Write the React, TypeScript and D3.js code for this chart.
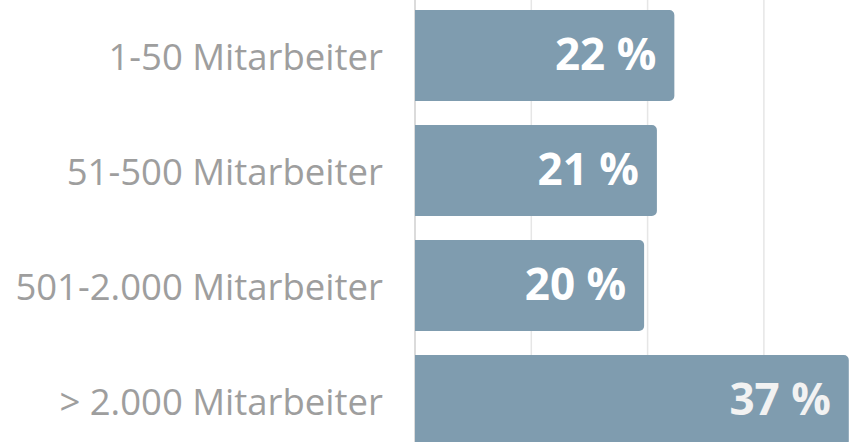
import React from "react";
import * as d3 from "d3";

const categories = ["1-50 Mitarbeiter", "51-500 Mitarbeiter", "501-2.000 Mitarbeiter", "> 2.000 Mitarbeiter"];
const values = [22.3, 20.8, 19.7, 37.3];
const valueLabels = ["22 %", "21 %", "20 %", "37 %"];
const gridTicks = [0, 10, 20, 30, 40];

const W = 867;
const H = 442;

function barPath(x0: number, x1: number, y0: number, h: number, r: number) {
  const p = d3.path();
  p.moveTo(x0, y0);
  p.lineTo(x1 - r, y0);
  p.arcTo(x1, y0, x1, y0 + r, r);
  p.lineTo(x1, y0 + h - r);
  p.arcTo(x1, y0 + h, x1 - r, y0 + h, r);
  p.lineTo(x0, y0 + h);
  p.closePath();
  return p.toString();
}

export default function App() {
  const x = d3.scaleLinear().domain([0, 40]).range([415, 880.2]);
  const y = d3
    .scaleBand<string>()
    .domain(categories)
    .range([-2, 458])
    .paddingInner(0.2087)
    .paddingOuter(0.1043);
  const bw = y.bandwidth();

  return (
    <svg
      width={W}
      height={H}
      style={{ position: "absolute", left: 0, top: 0, display: "block", background: "#fff" }}
      fontFamily="'Open Sans', sans-serif"
    >
      {gridTicks.map((t) => (
        <line
          key={t}
          x1={x(t)}
          x2={x(t)}
          y1={0}
          y2={H}
          stroke={t === 0 ? "#cfcfcf" : "#e6e6e6"}
          strokeWidth={1.5}
        />
      ))}
      {categories.map((c, i) => {
        const y0 = y(c)!;
        const x1 = x(values[i]);
        return (
          <g key={c}>
            <path d={barPath(x(0), x1, y0, bw, 5)} fill="#7f9caf" />
            <text
              x={383}
              y={y0 + bw / 2}
              dy="0.4em"
              textAnchor="end"
              fontSize={36.5}
              fill="#9e9e9e"
            >
              {c}
            </text>
            <text
              x={x1 - 18}
              y={y0 + bw / 2}
              dy="0.33em"
              textAnchor="end"
              fontSize={44}
              fontWeight="bold"
              fill={i === 3 ? "#f2f2f2" : "#ffffff"}
            >
              {valueLabels[i]}
            </text>
          </g>
        );
      })}
    </svg>
  );
}
